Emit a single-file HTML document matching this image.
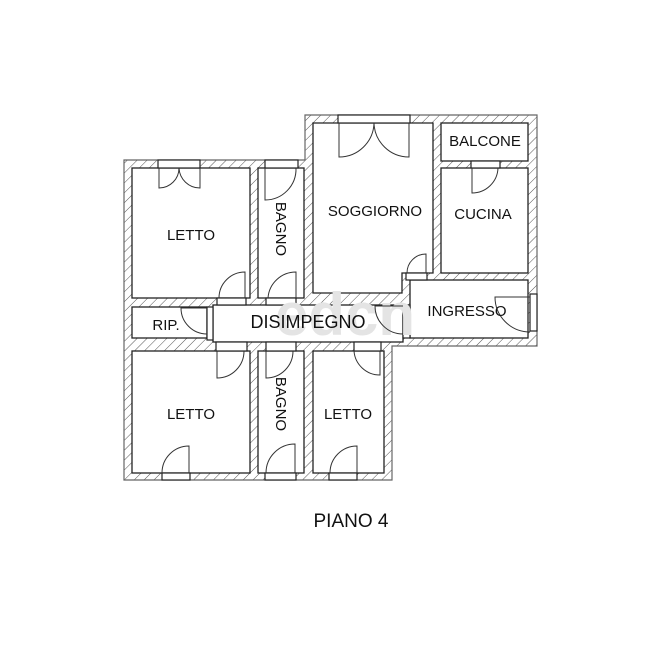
<!DOCTYPE html>
<html><head><meta charset="utf-8"><style>
html,body{margin:0;padding:0;background:#fff;}
svg{display:block;}
text{font-family:"Liberation Sans","DejaVu Sans",sans-serif;fill:#111;}
</style></head><body>
<svg width="649" height="648" viewBox="0 0 649 648" xmlns="http://www.w3.org/2000/svg">
<defs>
<pattern id="h" width="7" height="7" patternUnits="userSpaceOnUse" patternTransform="rotate(45)">
<rect width="7" height="7" fill="#fff"/>
<line x1="0" y1="0" x2="0" y2="7" stroke="#555" stroke-width="1"/>
</pattern>
</defs>
<polygon points="124,160 305,160 305,115 537,115 537,346 392,346 392,480 124,480" fill="url(#h)" stroke="#666" stroke-width="1.2"/>
<g fill="#fff" stroke="#222" stroke-width="1.3">
<rect x="132" y="168" width="118" height="130"/>
<rect x="258" y="168" width="46" height="130"/>
<polygon points="313,123 433,123 433,273 402,273 402,293 313,293"/>
<rect x="441" y="123" width="87" height="38"/>
<rect x="441" y="168" width="87" height="105"/>
<rect x="410" y="280" width="118" height="58"/>
<rect x="213" y="305" width="190" height="37"/>
<rect x="132" y="307" width="75" height="31"/>
<rect x="132" y="351" width="118" height="122"/>
<rect x="258" y="351" width="46" height="122"/>
<rect x="313" y="351" width="71" height="122"/>
</g>
<g fill="#fff" stroke="#222" stroke-width="1.2">
<rect x="158" y="160" width="42" height="8"/>
<rect x="265" y="160" width="33" height="8"/>
<rect x="338" y="115" width="72" height="8"/>
<rect x="471" y="161" width="29" height="7"/>
<rect x="530" y="294" width="7" height="37"/>
<rect x="217" y="298" width="29" height="7"/>
<rect x="266" y="298" width="30" height="7"/>
<rect x="406" y="273" width="21" height="7"/>
<rect x="403" y="305" width="7" height="33"/>
<rect x="207" y="307" width="6" height="33"/>
<rect x="216" y="342" width="31" height="9"/>
<rect x="266" y="342" width="30" height="9"/>
<rect x="354" y="342" width="27" height="9"/>
<rect x="162" y="473" width="28" height="7"/>
<rect x="265" y="473" width="31" height="7"/>
<rect x="329" y="473" width="28" height="7"/>
</g>
<text x="345" y="335" font-size="60" font-weight="bold" style="fill:#e4e4e4" text-anchor="middle">edcn</text>
<g fill="none" stroke="#333" stroke-width="1">
<path d="M159,168 V188 A20,20 0 0 0 179,168 M200,168 V188 A21,21 0 0 1 179,168"/>
<path d="M265,168 V200 A31,31 0 0 0 296,168"/>
<path d="M339,123 V157 A35,35 0 0 0 374,123 M409,123 V157 A35,35 0 0 1 374,123"/>
<path d="M472,168 V193 A26,26 0 0 0 498,168"/>
<path d="M245,298 V272 A26,26 0 0 0 219,298"/>
<path d="M296,298 V272 A28,28 0 0 0 268,298"/>
<path d="M426,273 V254 A19,19 0 0 0 407,273"/>
<path d="M530,297 H495 A35,35 0 0 0 530,332"/>
<path d="M403,306 H375 A28,28 0 0 0 403,334"/>
<path d="M207,308 H181 A26,26 0 0 0 207,334"/>
<path d="M217,351 V378 A27,27 0 0 0 244,351"/>
<path d="M266,351 V378 A27,27 0 0 0 293,351"/>
<path d="M380,351 V375 A26,26 0 0 1 354,351"/>
<path d="M189,473 V446 A27,27 0 0 0 162,473"/>
<path d="M295,473 V444 A29,29 0 0 0 266,473"/>
<path d="M357,473 V446 A27,27 0 0 0 330,473"/>
</g>
<g font-size="15">
<text x="191" y="240" text-anchor="middle">LETTO</text>
<text x="375" y="216" text-anchor="middle">SOGGIORNO</text>
<text x="485" y="146" text-anchor="middle">BALCONE</text>
<text x="483" y="219" text-anchor="middle">CUCINA</text>
<text x="467" y="316" text-anchor="middle">INGRESSO</text>
<text x="308" y="328" text-anchor="middle" font-size="18">DISIMPEGNO</text>
<text x="166" y="330" text-anchor="middle">RIP.</text>
<text x="191" y="419" text-anchor="middle">LETTO</text>
<text x="348" y="419" text-anchor="middle">LETTO</text>
<text transform="translate(276,229) rotate(90)" text-anchor="middle">BAGNO</text>
<text transform="translate(276,404) rotate(90)" text-anchor="middle">BAGNO</text>
</g>
<text x="351" y="527" font-size="19" text-anchor="middle">PIANO 4</text>
</svg>
</body></html>
